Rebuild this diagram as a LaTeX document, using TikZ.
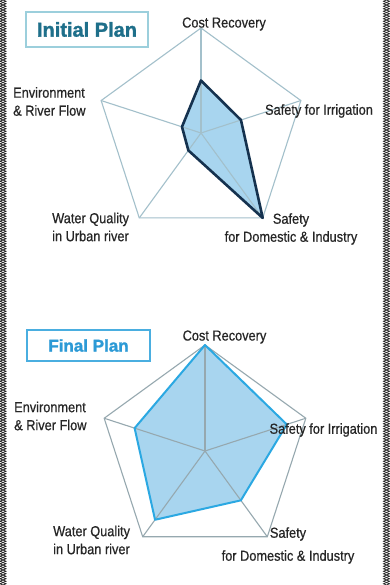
\documentclass[tikz,border=0pt]{standalone}
\usepackage{fontspec}
\setmainfont{Liberation Sans}
\newfontfamily\narrowfont[FakeStretch=0.88, FakeBold=0.6]{Liberation Sans}
\newfontfamily\heavyfont[FakeBold=1.6]{Liberation Sans Bold}
\usetikzlibrary{decorations.pathmorphing}
\definecolor{gridtop}{HTML}{A3C0CB}
\definecolor{gridbot}{HTML}{96A8AF}
\definecolor{areafill}{HTML}{A8D5EF}
\definecolor{navyline}{HTML}{15324F}
\definecolor{skyline}{HTML}{2BA8E2}
\definecolor{labeltext}{HTML}{262626}
\definecolor{titleteal}{HTML}{1E6F8A}
\definecolor{titlesky}{HTML}{2C9AD6}
\definecolor{boxteal}{HTML}{9CCFDC}
\definecolor{boxsky}{HTML}{4AAEE0}
\tikzset{
  axislabel/.style={font=\narrowfont\fontsize{14.5}{18}\selectfont, text=labeltext, inner sep=0pt},
  titlebox/.style={draw, line width=1.6pt, inner sep=0pt},
  gridline/.style={line width=1.1pt},
  chainborder/.style={draw=black!85, line width=0.75pt, decorate,
     decoration={zigzag, segment length=5pt, amplitude=3pt}},
}
\begin{document}
\begin{tikzpicture}[x=1pt,y=-1pt]
\useasboundingbox (0,0) rectangle (390,585);
\fill[white] (0,0) rectangle (390,585);

% side borders
\draw[chainborder] (3,0) -- (3,585);
\draw[chainborder, decoration={mirror}] (3,0) -- (3,585);
\draw[chainborder] (386.5,0) -- (386.5,585);
\draw[chainborder, decoration={mirror}] (386.5,0) -- (386.5,585);

% ---------------- Initial plan ----------------
\begin{scope}[shift={(201,133)}]
  \coordinate (tc) at (0,0);
  \coordinate (t0) at (-90:105);
  \coordinate (t1) at (-18:105);
  \coordinate (t2) at (54:105);
  \coordinate (t3) at (126:105);
  \coordinate (t4) at (198:105);
  \coordinate (d0) at (-90:52.5);
  \coordinate (d1) at (-18:42);
  \coordinate (d2) at (54:105);
  \coordinate (d3) at (126:21.5);
  \coordinate (d4) at (198:20);
\end{scope}
\fill[areafill] (d0) -- (d1) -- (d2) -- (d3) -- (d4) -- cycle;
\draw[gridline, gridtop] (t0) -- (t1) -- (t2) -- (t3) -- (t4) -- cycle;
\foreach \i in {0,...,4} \draw[gridline, gridtop] (tc) -- (t\i);
\draw[navyline, line width=2.6pt, line join=round] (d0) -- (d1) -- (d2) -- (d3) -- (d4) -- cycle;

\node[titlebox, draw=boxteal, text=titleteal, minimum width=122pt, minimum height=35pt,
      font=\heavyfont\fontsize{20}{24}\selectfont] (title1) at (87,29.5) {Initial Plan};
\node[axislabel] (l0) at (224,24) {Cost Recovery};
\node[axislabel] (l1) at (319,111) {Safety for Irrigation};
\node[axislabel, anchor=west, align=left] (l4) at (13,101.5) {Environment\\\& River Flow};
\node[axislabel, anchor=west, align=left] (l3) at (52,227) {Water Quality\\in Urban river};
\node[axislabel, align=center] (l2) at (291,229) {Safety\\for Domestic \& Industry};

% ---------------- Final plan ----------------
\begin{scope}[shift={(205,451)}]
  \coordinate (bc) at (0,0);
  \coordinate (b0) at (-90:106);
  \coordinate (b1) at (-18:106);
  \coordinate (b2) at (54:106);
  \coordinate (b3) at (126:106);
  \coordinate (b4) at (198:106);
  \coordinate (e0) at (-90:106);
  \coordinate (e1) at (-18:86);
  \coordinate (e2) at (54:61);
  \coordinate (e3) at (126:85);
  \coordinate (e4) at (198:74);
\end{scope}
\fill[areafill] (e0) -- (e1) -- (e2) -- (e3) -- (e4) -- cycle;
\draw[gridline, gridbot] (b0) -- (b1) -- (b2) -- (b3) -- (b4) -- cycle;
\foreach \i in {0,...,4} \draw[gridline, gridbot] (bc) -- (b\i);
\draw[skyline, line width=2pt, line join=round] (e0) -- (e1) -- (e2) -- (e3) -- (e4) -- cycle;

\node[titlebox, draw=boxsky, text=titlesky, minimum width=123pt, minimum height=31pt,
      font=\heavyfont\fontsize{17}{20}\selectfont] (title2) at (88.5,345.5) {Final Plan};
\node[axislabel] (m0) at (224.5,337) {Cost Recovery};
\node[axislabel] (m1) at (323.5,430) {Safety for Irrigation};
\node[axislabel, anchor=west, align=left] (m4) at (14,416) {Environment\\\& River Flow};
\node[axislabel, anchor=west, align=left] (m3) at (53,540) {Water Quality\\in Urban river};
\node[axislabel, align=center, font=\narrowfont\fontsize{14.5}{23}\selectfont] (m2) at (288,545.5) {Safety\\for Domestic \& Industry};
\end{tikzpicture}
\end{document}
